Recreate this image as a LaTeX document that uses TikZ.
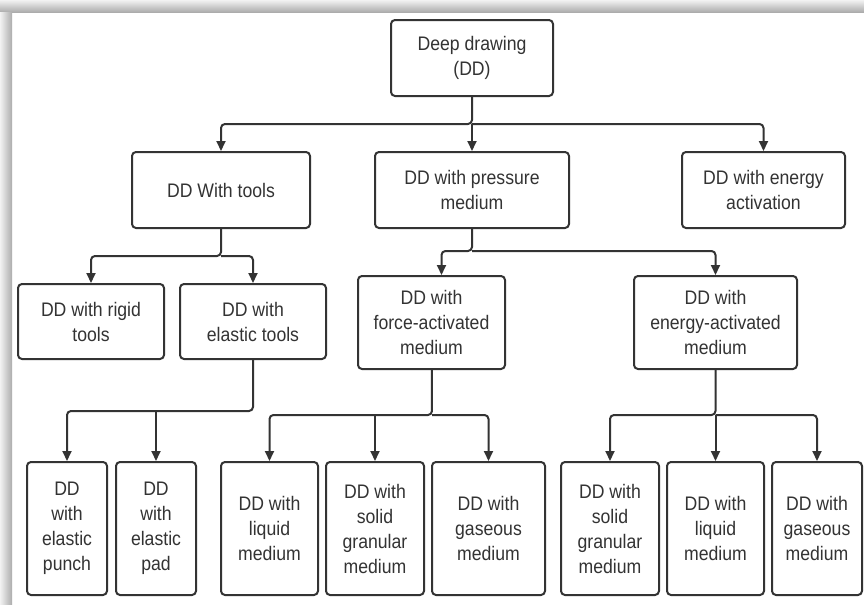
\documentclass[tikz,border=0pt]{standalone}
\usepackage{fontspec}
\setmainfont[FakeStretch=0.9]{Liberation Sans}
\usetikzlibrary{arrows.meta}
\definecolor{lnc}{HTML}{333333}
\tikzset{
  box/.style={draw=lnc, line width=1pt, rounded corners=2pt, align=center,
    font=\fontsize{9.8}{12.5}\selectfont, text=lnc, inner sep=0pt},
  arr/.style={-{Triangle[length=5pt,width=4.5pt]}, line width=1pt, draw=lnc, rounded corners=2pt},
}
\begin{document}
\begin{tikzpicture}[x=0.5pt,y=-0.5pt]
  \fill[white] (0,0) rectangle (864,605);
  \useasboundingbox (0,0) rectangle (864,605);
  % frame shadow
  \shade[top color=gray!10, bottom color=gray!65] (0,0) rectangle (864,12);
  \shade[left color=gray!10, right color=gray!65] (0,12) rectangle (12,605);

  \node[box, minimum width=81pt, minimum height=38pt] (dd) at (472,58) {Deep drawing\\(DD)};

  \node[box, minimum width=89pt, minimum height=38pt] (tools) at (221,190) {DD With tools};
  \node[box, minimum width=97pt, minimum height=38pt] (press) at (472,190) {DD with pressure\\medium};
  \node[box, minimum width=81.5pt, minimum height=38pt] (energy) at (763.5,190) {DD with energy\\activation};

  \node[box, minimum width=73pt, minimum height=37.5pt] (rigid) at (91,321.5) {DD with rigid\\tools};
  \node[box, minimum width=73pt, minimum height=37.5pt] (elastic) at (253,321.5) {DD with\\elastic tools};
  \node[box, minimum width=73.5pt, minimum height=46.5pt] (force) at (431.5,322.5) {DD with\\force-activated\\medium};
  \node[box, minimum width=81.5pt, minimum height=46.5pt] (eact) at (715.5,322.5) {DD with\\energy-activated\\medium};

  \node[box, minimum width=40pt, minimum height=66.5pt] (punch) at (67,528.5) {DD\\with\\elastic\\punch};
  \node[box, minimum width=40pt, minimum height=66.5pt] (pad) at (156,528.5) {DD\\with\\elastic\\pad};
  \node[box, minimum width=48.5pt, minimum height=66.5pt] (fliq) at (269.5,528.5) {DD with\\liquid\\medium};
  \node[box, minimum width=49pt, minimum height=66.5pt] (fsol) at (375,528.5) {DD with\\solid\\granular\\medium};
  \node[box, minimum width=56.5pt, minimum height=66.5pt] (fgas) at (488.5,528.5) {DD with\\gaseous\\medium};
  \node[box, minimum width=49pt, minimum height=66.5pt] (esol) at (610,528.5) {DD with\\solid\\granular\\medium};
  \node[box, minimum width=48.5pt, minimum height=66.5pt] (eliq) at (715.5,528.5) {DD with\\liquid\\medium};
  \node[box, minimum width=45pt, minimum height=66.5pt] (egas) at (817,528.5) {DD with\\gaseous\\medium};

  % junctions
  \coordinate (j1) at (472,124);
  \coordinate (j2) at (221,256);
  \coordinate (j3) at (472,251);
  \coordinate (j4) at (432,415);
  \coordinate (j5) at (715.5,415);
  \coordinate (j6) at (253,411);

  \draw[arr] (dd) -- (j1) -| (tools);
  \draw[arr] (j1) -- (press);
  \draw[arr] (j1) -| (energy);

  \draw[arr] (tools) -- (j2) -| (rigid);
  \draw[arr] (j2) -| (elastic);

  \draw[arr] (press) -- (j3) -| ([xshift=5pt]force.north);
  \draw[arr] (j3) -| (eact);

  \draw[arr] (elastic) -- (j6) -| (punch);
  \draw[arr] (pad |- j6) -- (pad);

  \draw[arr] (force) -- (j4) -| (fliq);
  \draw[arr] (fsol |- j4) -- (fsol);
  \draw[arr] (j4) -| (fgas);

  \draw[arr] (eact) -- (j5) -| (esol);
  \draw[arr] (j5) -- (eliq);
  \draw[arr] (j5) -| (egas);
\end{tikzpicture}
\end{document}
